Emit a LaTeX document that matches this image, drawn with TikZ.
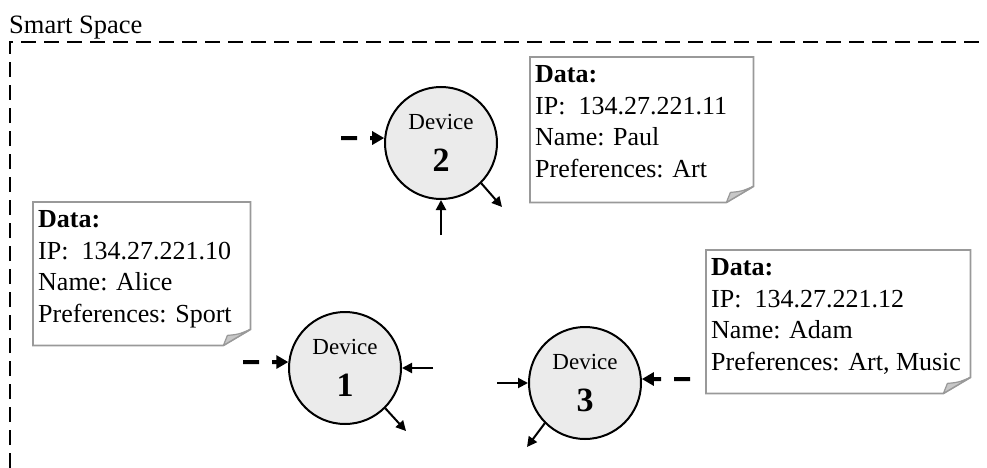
\documentclass[tikz,border=0pt]{standalone}
\usepackage{fontspec}
\setmainfont{Liberation Serif}
\usetikzlibrary{arrows.meta,calc}

\tikzset{
  space/.style={draw, line width=2pt, dash pattern=on 15pt off 8pt},
  device/.style={circle, draw, line width=2pt, fill=black!8, minimum size=112pt,
    inner sep=0pt, align=center, font=\fontsize{23}{42}\selectfont},
  note/.style={draw=none, inner sep=0pt, anchor=north west},
  notetext/.style={inner sep=0pt, anchor=north west, align=left,
    font=\fontsize{26}{31.8}\selectfont},
  noteline/.style={draw=black!40, line width=1.8pt, fill=white, line join=miter},
  fold/.style={draw=black!40, line width=1.2pt, fill=black!22, line join=round},
  link/.style={line width=2pt, -{Triangle[length=10pt,width=10pt]}},
  feed/.style={line width=4pt, dash pattern=on 16pt off 13pt,
    -{Triangle[length=12pt,width=13pt]}},
}

% sticky note with a folded lower right corner: name, x, y, width, height, text
\newcommand\notecard[6]{%
  \node[note, minimum width=#4pt, minimum height=#5pt] (#1) at (#2,#3) {};
  \draw[noteline] (#1.north west) -- (#1.north east)
    -- ($(#1.south east)+(0,-16)$) -- ($(#1.south east)+(-27,0)$)
    -- (#1.south west) -- cycle;
  \draw[fold] ($(#1.south east)+(0,-16)$)
    .. controls ($(#1.south east)+(-12,-11)$) .. ($(#1.south east)+(-23,-10)$)
    -- ($(#1.south east)+(-27,0)$) -- cycle;
  \node[notetext] (#1-text) at ($(#1.north west)+(5,8)$) {#6};
}

\begin{document}
\begin{tikzpicture}[x=1pt, y=-1pt]
\useasboundingbox (0,0) rectangle (987,468);

% the smart space boundary
\node[anchor=base west, inner sep=0pt, font=\fontsize{26.5}{30}\selectfont]
  (title) at (9,34) {Smart Space};
\draw[space] (10,468) -- (10,42) -- (987,42);

% devices
\node[device] (d1) at (345,368) {Device\\{\bfseries\fontsize{34}{42}\selectfont 1}};
\node[device] (d2) at (441,143) {Device\\{\bfseries\fontsize{34}{42}\selectfont 2}};
\node[device] (d3) at (585,383) {Device\\{\bfseries\fontsize{34}{42}\selectfont 3}};

% data cards
\notecard{alice}{33}{202}{217}{143}{\textbf{Data:}\\IP:\ \ 134.27.221.10\\Name: Alice\\Preferences: Sport}
\notecard{paul}{530}{57}{223}{145}{\textbf{Data:}\\IP:\ \ 134.27.221.11\\Name: Paul\\Preferences: Art}
\notecard{adam}{706}{250}{264}{143}{\textbf{Data:}\\IP:\ \ 134.27.221.12\\Name: Adam\\Preferences: Art, Music}

% free ends of the connectors
\coordinate (d1feed) at (243,362);
\coordinate (d1in) at (433,368);
\coordinate (d1out) at (406,431);
\coordinate (d2feed) at (341,138);
\coordinate (d2in) at (441,235);
\coordinate (d2out) at (502,207);
\coordinate (d3in) at (497,383);
\coordinate (d3feed) at (690,379);
\coordinate (d3out) at (527,447);

% connectors
\draw[feed] (d1feed) -- (d1.174);
\draw[link] (d1in) -- (d1.east);
\draw[link] (d1.-45) -- (d1out);

\draw[feed] (d2feed) -- (d2.175);
\draw[link] (d2in) -- (d2.south);
\draw[link] (d2.-45) -- (d2out);

\draw[link] (d3in) -- (d3.west);
\draw[feed] (d3feed) -- (d3.4);
\draw[link] (d3.-135) -- (d3out);
\end{tikzpicture}
\end{document}
